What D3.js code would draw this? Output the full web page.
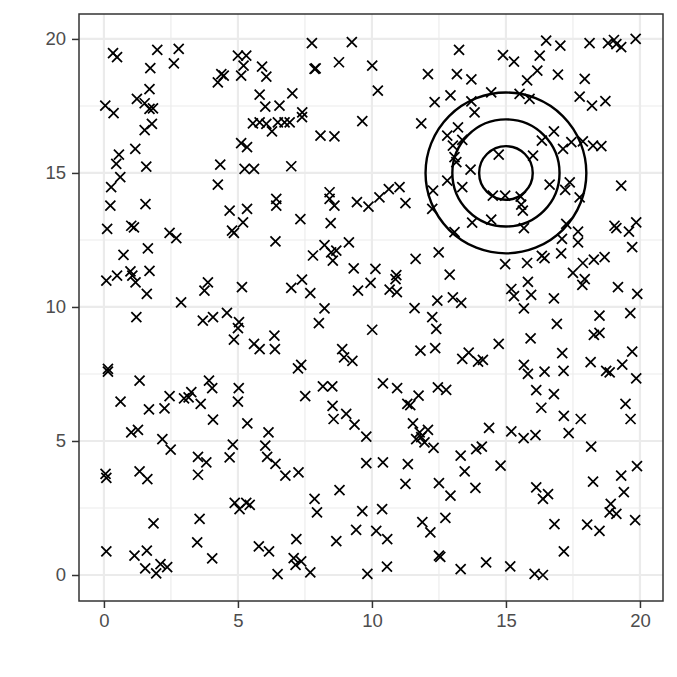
<!DOCTYPE html>
<html><head><meta charset="utf-8">
<script src="https://cdn.jsdelivr.net/npm/d3@7"></script>
<style>body{margin:0;background:#fff}</style>
</head><body>
<script>
const pointsX = [0.34,0.49,1.99,2.79,2.61,1.73,1.70,1.23,1.52,1.70,1.83,0.05,0.36,1.79,1.52,1.17,0.56,0.46,1.58,0.61,0.27,0.24,1.55,4.25,4.38,4.47,5.12,5.0,5.31,5.21,5.90,6.06,5.81,6.02,5.56,5.81,6.06,6.27,5.12,5.34,4.34,5.25,5.60,4.25,4.69,5.34,
7.76,9.25,7.86,7.90,8.77,10.01,10.22,7.03,6.55,7.40,7.39,6.49,6.74,6.93,8.08,8.60,9.64,6.99,11.84,12.09,12.34,12.93,13.17,13.25,13.71,13.71,12.81,13.21,13.02,13.37,13.08,13.15,13.68,12.81,13.37,12.28,12.25,6.43,6.43,8.42,8.42,8.60,9.44,9.87,10.28,10.63,11.03,11.25,
16.50,17.03,18.12,18.81,19.03,19.12,19.30,19.84,14.89,15.30,16.26,16.17,15.79,16.94,17.94,14.45,15.51,15.88,17.75,18.21,18.71,13.83,16.79,16.34,16.01,17.13,17.44,17.87,18.25,18.56,14.73,16.63,17.38,17.21,17.75,19.30,14.51,14.97,15.55,15.57,15.63,
0.12,1.02,1.12,2.45,2.70,4.78,4.85,5.19,6.40,0.73,1.64,0.09,0.49,0.99,1.06,1.18,1.70,1.60,2.88,3.88,3.75,5.15,1.21,3.69,4.07,4.59,5.04,5.0,4.85,5.60,5.81,6.36,6.38,0.15,0.15,1.33,0.62,1.68,2.26,2.45,2.99,3.16,3.26,3.61,3.92,4.04,5.03,5.0,
7.33,8.46,7.80,8.23,8.48,8.67,8.54,9.14,9.32,10.13,7.39,6.99,7.70,9.48,9.95,10.91,10.88,10.66,10.93,11.63,12.49,12.90,12.44,13.02,13.33,13.08,13.74,8.23,8.02,10.01,11.59,12.25,12.40,8.89,8.96,9.27,7.24,7.36,11.81,12.36,13.37,13.61,7.51,8.17,8.52,8.53,10.41,10.94,11.74,11.32,11.43,12.46,12.77,
14.45,15.67,17.25,17.69,17.09,17.69,19.05,19.12,19.59,19.86,19.71,14.97,15.79,16.34,16.44,17.06,17.87,18.28,18.68,17.50,17.94,17.85,15.82,15.20,15.30,15.94,16.79,15.67,19.18,19.90,18.49,19.64,16.90,15.92,18.28,18.49,14.73,13.96,14.14,17.10,15.67,15.82,16.44,17.15,18.16,18.74,18.87,19.34,19.71,19.86,16.13,16.79,16.32,19.46,
4.07,5.35,6.14,1.02,1.27,2.18,2.49,4.81,4.69,6.02,6.09,6.40,3.51,3.82,3.51,0.06,0.09,1.33,1.62,4.88,5.06,5.31,5.44,1.85,3.57,3.48,4.04,0.09,1.14,1.60,1.54,1.95,2.11,2.36,5.78,6.16,6.48,
8.57,9.04,9.35,9.79,11.53,11.78,12.09,11.65,11.84,11.96,12.30,6.77,7.26,9.79,10.41,11.34,11.25,8.79,7.86,7.95,9.64,10.38,9.41,8.67,10.16,10.57,7.18,7.08,7.15,7.36,7.70,9.83,10.56,12.50,12.93,13.31,13.46,11.88,12.18,12.74,12.50,12.55,13.31,
17.16,17.79,19.65,14.37,15.20,15.66,16.10,17.34,18.18,13.89,14.10,14.80,13.86,16.13,16.57,16.38,18.25,19.30,19.89,19.40,18.91,18.87,19.12,19.82,16.81,18.03,18.49,17.16,14.26,15.16,16.07,16.38];
const pointsY = [19.47,19.32,19.59,19.63,19.09,18.91,18.13,17.76,17.60,17.39,17.41,17.51,17.23,16.83,16.60,15.90,15.68,15.34,15.24,14.84,14.47,13.78,13.84,18.38,18.69,18.63,18.63,19.38,19.38,19.00,18.97,18.59,17.92,17.47,16.85,16.89,16.83,16.55,16.11,15.96,15.31,15.15,15.15,14.56,13.59,13.66,
19.84,19.88,18.88,18.90,19.13,19.00,18.07,17.97,17.51,17.26,17.08,16.89,16.89,16.89,16.39,16.36,16.93,15.25,16.85,18.69,17.64,17.89,18.69,19.59,18.49,17.67,16.39,16.70,16.02,16.23,15.59,15.40,15.12,14.71,14.47,14.34,13.66,14.03,13.78,14.28,14.03,13.78,13.91,13.74,14.09,14.40,14.47,13.87,
19.94,19.75,19.84,19.84,19.96,19.81,19.69,20.0,19.40,19.15,19.38,18.82,18.45,18.67,18.51,18.01,17.95,17.76,17.85,17.51,17.68,17.26,16.55,16.21,15.65,15.90,16.15,16.18,16.02,16.00,15.68,14.56,14.65,14.37,14.09,14.53,14.15,14.15,14.12,13.82,13.59,
12.91,13.03,12.97,12.76,12.57,12.85,12.76,13.16,12.45,11.94,12.19,10.98,11.17,11.33,11.17,10.92,11.35,10.49,10.17,10.92,10.61,10.74,9.62,9.49,9.62,9.78,9.43,9.21,8.78,8.62,8.43,8.93,8.43,7.69,7.59,7.25,6.47,6.18,6.22,6.67,6.59,6.63,6.82,6.38,7.25,6.97,6.97,6.47,
13.28,13.13,11.92,12.31,12.04,12.10,11.73,12.41,11.44,11.42,11.02,10.71,10.52,10.61,10.90,11.19,11.04,10.65,10.55,11.79,12.04,11.21,10.24,10.36,10.15,12.79,13.15,9.95,9.40,9.15,9.96,9.62,9.18,8.43,8.12,7.99,7.71,7.84,8.37,8.46,8.06,8.30,6.67,7.04,7.04,6.31,7.15,6.97,6.69,6.38,6.34,7.00,6.91,
13.26,12.94,13.10,12.81,12.54,12.41,13.03,12.94,12.81,13.16,12.23,11.60,11.64,11.91,11.82,12.00,11.64,11.77,11.86,11.27,11.04,10.82,10.94,10.67,10.40,10.45,10.32,9.95,10.74,10.49,9.68,9.77,9.37,8.83,8.96,9.03,8.62,7.96,8.03,8.28,7.84,7.50,7.59,7.62,7.94,7.62,7.56,7.85,8.33,7.34,6.90,6.75,6.24,6.38,
5.80,5.66,5.32,5.32,5.41,5.07,4.68,4.86,4.39,4.83,4.41,4.15,4.41,4.20,3.74,3.77,3.62,3.87,3.58,2.69,2.46,2.69,2.62,1.93,2.09,1.22,0.62,0.88,0.72,0.91,0.25,0.06,0.41,0.29,1.07,0.88,0.03,
5.82,6.01,5.61,5.16,5.66,5.32,5.41,5.07,5.14,4.95,4.74,3.71,3.83,4.17,4.20,4.14,3.40,3.17,2.84,2.34,2.38,2.46,1.68,1.26,1.65,1.34,1.34,0.63,0.38,0.51,0.10,0.04,0.31,3.43,2.96,4.45,3.87,1.97,1.59,2.13,0.72,0.68,0.22,
5.94,5.82,5.82,5.49,5.36,5.11,5.22,5.29,4.79,4.70,4.79,4.08,3.25,3.27,3.02,2.84,3.48,3.71,4.06,3.09,2.65,2.34,2.28,2.05,1.90,1.88,1.65,0.88,0.47,0.32,0.04,0.0];
const circleCenter = [15, 15];
const circleRadii = [1, 2, 3];
const xTicks = [0, 5, 10, 15, 20];
const yTicks = [0, 5, 10, 15, 20];
const minorTicks = [2.5, 7.5, 12.5, 17.5];

const W = 677, H = 677;
const svg = d3.select("body").append("svg").attr("width", W).attr("height", H);
const x = d3.scaleLinear().domain([-0.93, 20.86]).range([79, 663]);
const y = d3.scaleLinear().domain([-0.97, 20.93]).range([601, 14]);

const grid = svg.append("g");
minorTicks.forEach(t => {
  grid.append("line").attr("x1", x(t)).attr("x2", x(t)).attr("y1", y.range()[0]).attr("y2", y.range()[1])
    .attr("stroke", "#ebebeb").attr("stroke-width", 1.1);
  grid.append("line").attr("y1", y(t)).attr("y2", y(t)).attr("x1", x.range()[0]).attr("x2", x.range()[1])
    .attr("stroke", "#ebebeb").attr("stroke-width", 1.1);
});
xTicks.forEach(t => {
  grid.append("line").attr("x1", x(t)).attr("x2", x(t)).attr("y1", y.range()[0]).attr("y2", y.range()[1])
    .attr("stroke", "#ebebeb").attr("stroke-width", 2.2);
});
yTicks.forEach(t => {
  grid.append("line").attr("y1", y(t)).attr("y2", y(t)).attr("x1", x.range()[0]).attr("x2", x.range()[1])
    .attr("stroke", "#ebebeb").attr("stroke-width", 2.2);
});

const s = 5;
svg.append("g").selectAll("path").data(pointsX.map((d, i) => [d, pointsY[i]])).join("path")
  .attr("d", d => { const cx = x(d[0]), cy = y(d[1]);
    return `M${cx - s},${cy - s}L${cx + s},${cy + s}M${cx - s},${cy + s}L${cx + s},${cy - s}`; })
  .attr("stroke", "#000").attr("stroke-width", 1.75).attr("fill", "none");

svg.append("g").selectAll("ellipse").data(circleRadii).join("ellipse")
  .attr("cx", x(circleCenter[0])).attr("cy", y(circleCenter[1]))
  .attr("rx", r => x(circleCenter[0] + r) - x(circleCenter[0]))
  .attr("ry", r => y(circleCenter[1]) - y(circleCenter[1] + r))
  .attr("fill", "none").attr("stroke", "#000").attr("stroke-width", 2.4);

svg.append("rect").attr("x", 79).attr("y", 14).attr("width", 663 - 79).attr("height", 601 - 14)
  .attr("fill", "none").attr("stroke", "#333333").attr("stroke-width", 1.5);

const xAxis = svg.append("g").attr("transform", "translate(0,601)")
  .call(d3.axisBottom(x).tickValues(xTicks).tickSize(7).tickPadding(6).tickFormat(d3.format("d")));
const yAxis = svg.append("g").attr("transform", "translate(79,0)")
  .call(d3.axisLeft(y).tickValues(yTicks).tickSize(7).tickPadding(6).tickFormat(d3.format("d")));
[xAxis, yAxis].forEach(a => {
  a.select(".domain").remove();
  a.selectAll(".tick line").attr("stroke", "#333333").attr("stroke-width", 1.5);
  a.selectAll(".tick text").attr("fill", "#4d4d4d").attr("font-size", 18.5)
    .attr("font-family", "Liberation Sans, Arial, sans-serif");
});
</script>
</body></html>
